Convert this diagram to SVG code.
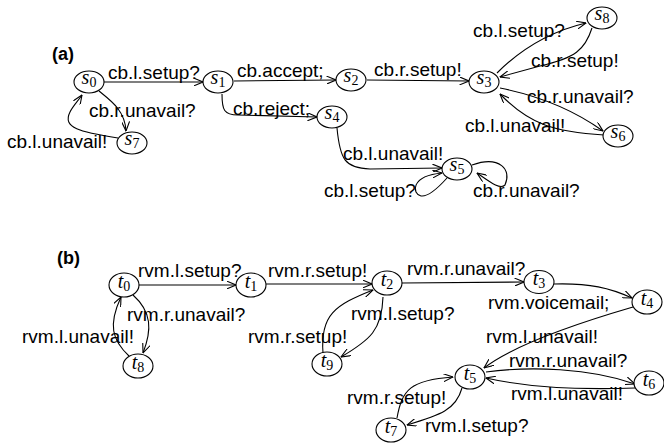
<svg xmlns="http://www.w3.org/2000/svg" width="664" height="447" viewBox="0 0 664 447">
  <style>
    .st { fill: #fff; stroke: #000; stroke-width: 1.1; }
    .nm { font-family: "Liberation Serif", "Times New Roman", serif; font-style: italic; font-size: 20px; text-anchor: middle; fill: #000; }
    .sb { font-style: normal; font-size: 14px; }
    .lb { font-family: "Liberation Sans", Arial, sans-serif; font-size: 19px; fill: #000; }
    .hd { font-family: "Liberation Sans", Arial, sans-serif; font-size: 18px; font-weight: bold; fill: #000; }
    .e { fill: none; stroke: #000; stroke-width: 1.1; marker-end: url(#arr); }
  </style>
  <defs>
    <marker id="arr" viewBox="0 0 10 8" refX="9.5" refY="4" markerWidth="10" markerHeight="8" markerUnits="userSpaceOnUse" orient="auto">
      <path d="M0,0 L9.5,4 L0,8" fill="none" stroke="#000" stroke-width="1.1"/>
    </marker>
  </defs>
  <rect width="664" height="447" fill="#fff"/>

  <!-- panel headings -->
  <text class="hd" x="52" y="60">(a)</text>
  <text class="hd" x="57" y="264">(b)</text>

  <!-- transitions -->
  <g id="connectors">
    <!-- (a) -->
    <path class="e" d="M104,82 L203,82"/>
    <path class="e" d="M234,81 L336,80"/>
    <path class="e" d="M367,80 L469,81"/>
    <path class="e" d="M222,94 C222,110 224,115 238,115 L317,117"/>
    <path class="e" d="M99,91 C110,100 125,110 126,131"/>
    <path class="e" d="M118,138 C80,132 62,128 70,112 C73,106 78,101 82,95"/>
    <path class="e" d="M497,73 Q535,35 586,23"/>
    <path class="e" d="M592,28 C585,50 575,58 540,66 L500,77"/>
    <path class="e" d="M500,88 Q560,100 603,131"/>
    <path class="e" d="M604,135 C555,132 530,125 500,94"/>
    <path class="e" d="M337,128 C340,160 345,168 370,169 L442,168"/>
    <path class="e" d="M447,178 C438,188 428,197 421,196 C412,194 410,176 442,173"/>
    <path class="e" d="M472,165 C500,155 512,170 505,185 C500,190 490,182 477,173"/>
    <!-- (b) -->
    <path class="e" d="M139,285 L236,285"/>
    <path class="e" d="M266,284 L372,284"/>
    <path class="e" d="M402,283 L524,282"/>
    <path class="e" d="M554,284 C590,283 610,288 632,298"/>
    <path class="e" d="M633,307 Q520,340 484,368"/>
    <path class="e" d="M486,372 C530,366 590,368 635,384"/>
    <path class="e" d="M635,388 C580,390 530,388 486,378"/>
    <path class="e" d="M462,388 C456,410 440,415 407,425"/>
    <path class="e" d="M397,418 C402,390 410,380 453,377"/>
    <path class="e" d="M383,297 C382,330 370,340 341,357"/>
    <path class="e" d="M323,353 C320,315 335,305 373,290"/>
    <path class="e" d="M133,295 C152,312 152,330 143,353"/>
    <path class="e" d="M129,356 C112,340 108,325 121,297"/>
  </g>

  <!-- transition labels -->
  <g id="labels">
    <text class="lb" x="108" y="79">cb.l.setup?</text>
    <text class="lb" x="237" y="77">cb.accept;</text>
    <text class="lb" x="374" y="76">cb.r.setup!</text>
    <text class="lb" x="89" y="117">cb.r.unavail?</text>
    <text class="lb" x="233" y="115">cb.reject;</text>
    <text class="lb" x="7" y="148">cb.l.unavail!</text>
    <text class="lb" x="473" y="37">cb.l.setup?</text>
    <text class="lb" x="531" y="67">cb.r.setup!</text>
    <text class="lb" x="527" y="103">cb.r.unavail?</text>
    <text class="lb" x="465" y="132">cb.l.unavail!</text>
    <text class="lb" x="343" y="160">cb.l.unavail!</text>
    <text class="lb" x="324" y="197">cb.l.setup?</text>
    <text class="lb" x="473" y="197">cb.r.unavail?</text>

    <text class="lb" x="138" y="277">rvm.l.setup?</text>
    <text class="lb" x="268" y="277">rvm.r.setup!</text>
    <text class="lb" x="407" y="275">rvm.r.unavail?</text>
    <text class="lb" x="127" y="321">rvm.r.unavail?</text>
    <text class="lb" x="22" y="343">rvm.l.unavail!</text>
    <text class="lb" x="248" y="343">rvm.r.setup!</text>
    <text class="lb" x="351" y="320">rvm.l.setup?</text>
    <text class="lb" x="488" y="309">rvm.voicemail;</text>
    <text class="lb" x="486" y="343">rvm.l.unavail!</text>
    <text class="lb" x="509" y="367">rvm.r.unavail?</text>
    <text class="lb" x="511" y="400">rvm.l.unavail!</text>
    <text class="lb" x="347" y="404">rvm.r.setup!</text>
    <text class="lb" x="425" y="432">rvm.l.setup?</text>
  </g>

  <!-- states, panel (a) -->
  <g id="s0"><ellipse class="st" cx="89" cy="82" rx="15" ry="11"/><text class="nm" x="89" y="84">s<tspan class="sb" dy="3">0</tspan></text></g>
  <g id="s1"><ellipse class="st" cx="218" cy="82" rx="15" ry="11"/><text class="nm" x="218" y="84">s<tspan class="sb" dy="3">1</tspan></text></g>
  <g id="s2"><ellipse class="st" cx="351" cy="80" rx="15" ry="11"/><text class="nm" x="351" y="82">s<tspan class="sb" dy="3">2</tspan></text></g>
  <g id="s3"><ellipse class="st" cx="484" cy="82" rx="15" ry="11"/><text class="nm" x="484" y="84">s<tspan class="sb" dy="3">3</tspan></text></g>
  <g id="s4"><ellipse class="st" cx="332" cy="117" rx="15" ry="11"/><text class="nm" x="332" y="119">s<tspan class="sb" dy="3">4</tspan></text></g>
  <g id="s5"><ellipse class="st" cx="457" cy="169" rx="15" ry="11"/><text class="nm" x="457" y="171">s<tspan class="sb" dy="3">5</tspan></text></g>
  <g id="s6"><ellipse class="st" cx="618" cy="136" rx="15" ry="11"/><text class="nm" x="618" y="138">s<tspan class="sb" dy="3">6</tspan></text></g>
  <g id="s7"><ellipse class="st" cx="132" cy="143" rx="15" ry="11"/><text class="nm" x="132" y="145">s<tspan class="sb" dy="3">7</tspan></text></g>
  <g id="s8"><ellipse class="st" cx="602" cy="18" rx="15" ry="11"/><text class="nm" x="602" y="20">s<tspan class="sb" dy="3">8</tspan></text></g>

  <!-- states, panel (b) -->
  <g id="t0"><ellipse class="st" cx="124" cy="285" rx="15" ry="12"/><text class="nm" x="124" y="288">t<tspan class="sb" dy="3">0</tspan></text></g>
  <g id="t1"><ellipse class="st" cx="251" cy="285" rx="15" ry="12"/><text class="nm" x="251" y="288">t<tspan class="sb" dy="3">1</tspan></text></g>
  <g id="t2"><ellipse class="st" cx="387" cy="283" rx="15" ry="12"/><text class="nm" x="387" y="286">t<tspan class="sb" dy="3">2</tspan></text></g>
  <g id="t3"><ellipse class="st" cx="539" cy="282" rx="15" ry="11.5"/><text class="nm" x="539" y="285">t<tspan class="sb" dy="3">3</tspan></text></g>
  <g id="t4"><ellipse class="st" cx="647" cy="302" rx="15" ry="12"/><text class="nm" x="647" y="305">t<tspan class="sb" dy="3">4</tspan></text></g>
  <g id="t5"><ellipse class="st" cx="470" cy="377" rx="15" ry="12"/><text class="nm" x="470" y="380">t<tspan class="sb" dy="3">5</tspan></text></g>
  <g id="t6"><ellipse class="st" cx="649" cy="383" rx="15" ry="12"/><text class="nm" x="649" y="386">t<tspan class="sb" dy="3">6</tspan></text></g>
  <g id="t7"><ellipse class="st" cx="391" cy="430" rx="15" ry="12"/><text class="nm" x="391" y="433">t<tspan class="sb" dy="3">7</tspan></text></g>
  <g id="t8"><ellipse class="st" cx="138" cy="366" rx="15" ry="12"/><text class="nm" x="138" y="369">t<tspan class="sb" dy="3">8</tspan></text></g>
  <g id="t9"><ellipse class="st" cx="327" cy="364" rx="15" ry="12"/><text class="nm" x="327" y="367">t<tspan class="sb" dy="3">9</tspan></text></g>
</svg>
